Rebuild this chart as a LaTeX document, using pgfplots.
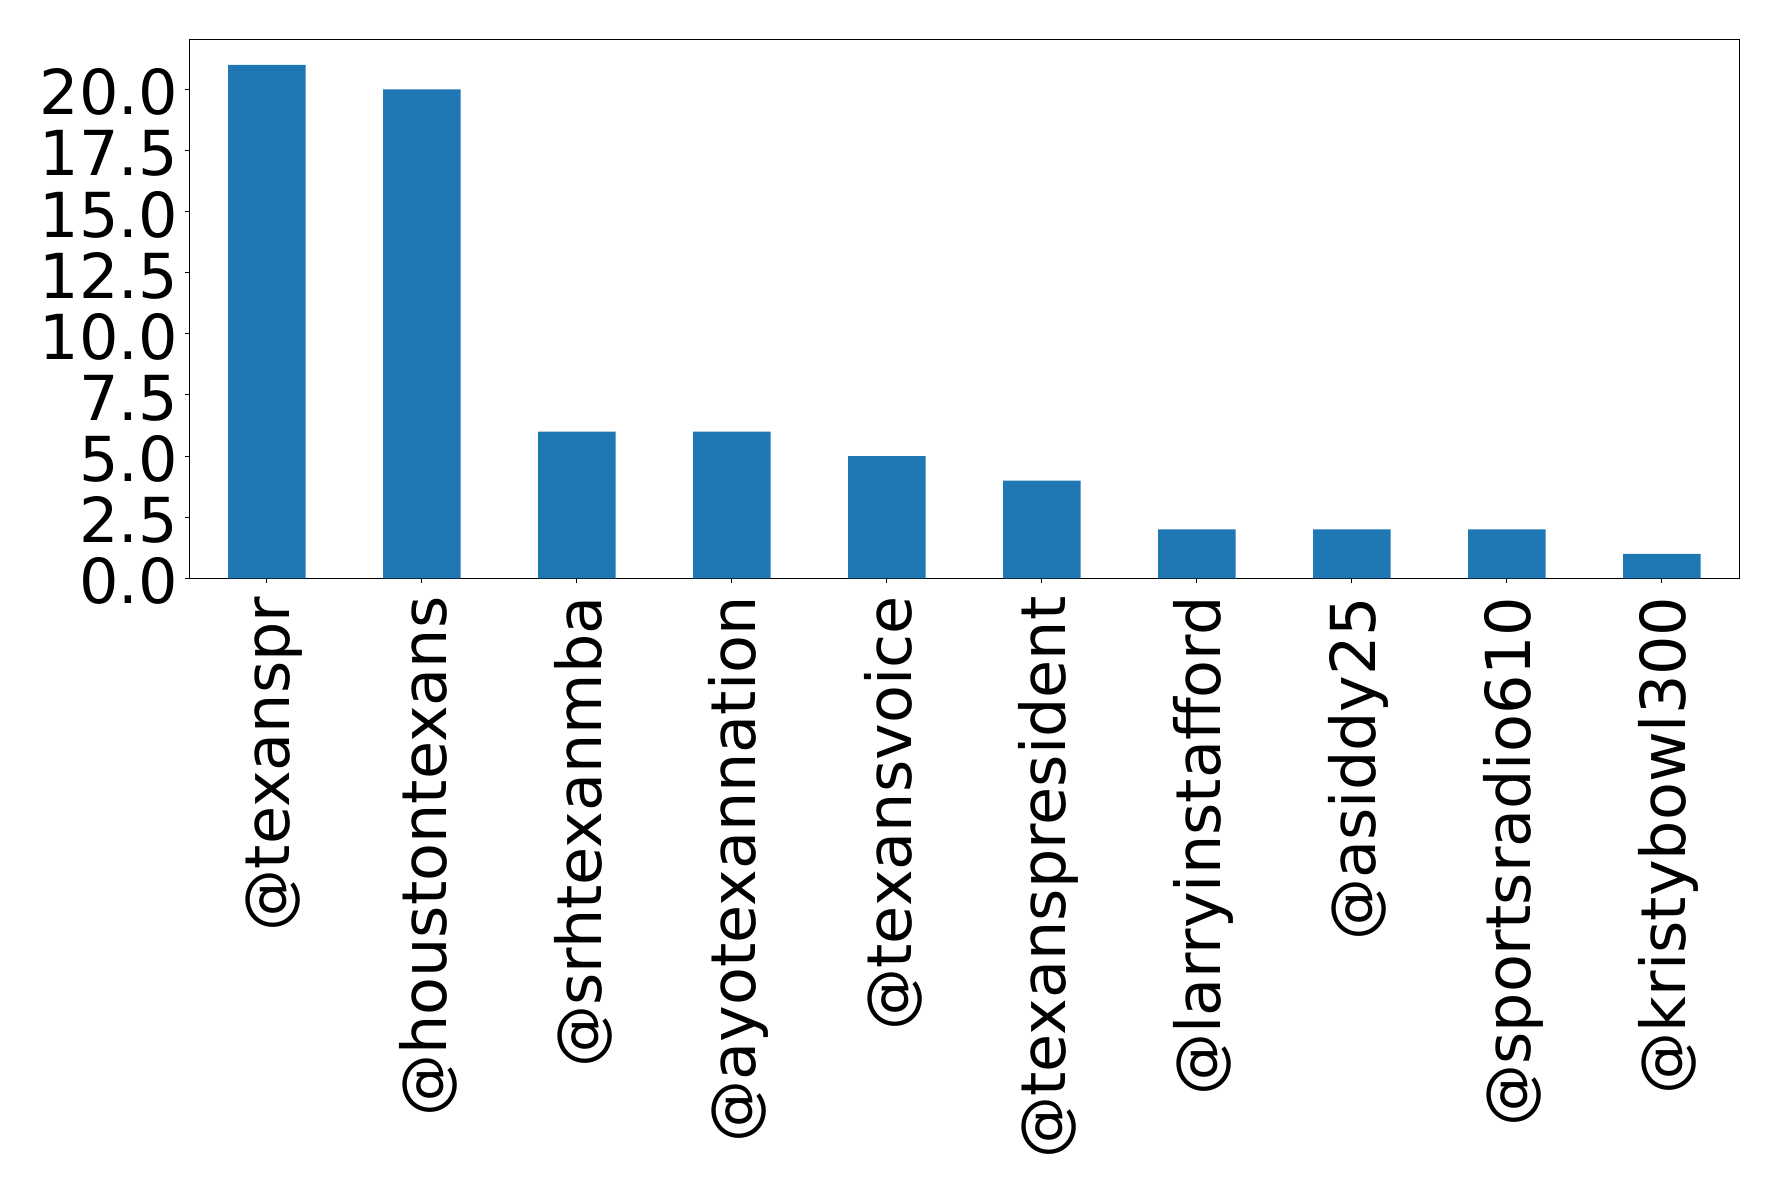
\documentclass[border=0pt]{standalone}
\usepackage{fontspec}
\setmainfont{DejaVu Sans}
\usepackage{pgfplots}
\pgfplotsset{compat=1.18}
\definecolor{mplblue}{HTML}{1F77B4}
\begin{document}
\begin{tikzpicture}
\path[use as bounding box] (-94.65pt,-307.85pt) rectangle (794.35pt,289.15pt);
\begin{axis}[
  at={(0,0)}, anchor=south west,
  scale only axis,
  width=775pt, height=269.5pt,
  xmin=-0.5, xmax=9.5,
  ymin=0, ymax=22.05,
  axis line style={line width=0.5pt},
  tick style={line width=0.5pt, black},
  tick align=outside,
  major tick length=2.15pt,
  xtick={0,...,9},
  xticklabels={@texanspr,@houstontexans,@srhtexanmba,@ayotexannation,@texansvoice,@texanspresident,@larryinstafford,@asiddy25,@sportsradio610,@kristybowl300},
  ytick={0,2.5,...,20},
  xtick pos=bottom, ytick pos=left,
  /pgf/number format/assume math mode=true,
  /pgf/number format/.cd, fixed, fixed zerofill, precision=1, /pgfplots/.cd,
  ticklabel style={font=\fontsize{31}{37}\selectfont},
  xticklabel style={rotate=90, anchor=east, inner sep=0pt, xshift=-6.8pt, yshift=-3.5pt},
  yticklabel style={anchor=east, inner sep=0pt, xshift=-3.4pt, yshift=-1.5pt},
]
\addplot[ybar, bar width=0.5, fill=mplblue, draw=none] coordinates {
(0,21) (1,20) (2,6) (3,6) (4,5) (5,4) (6,2) (7,2) (8,2) (9,1)
};
\end{axis}
\end{tikzpicture}
\end{document}
